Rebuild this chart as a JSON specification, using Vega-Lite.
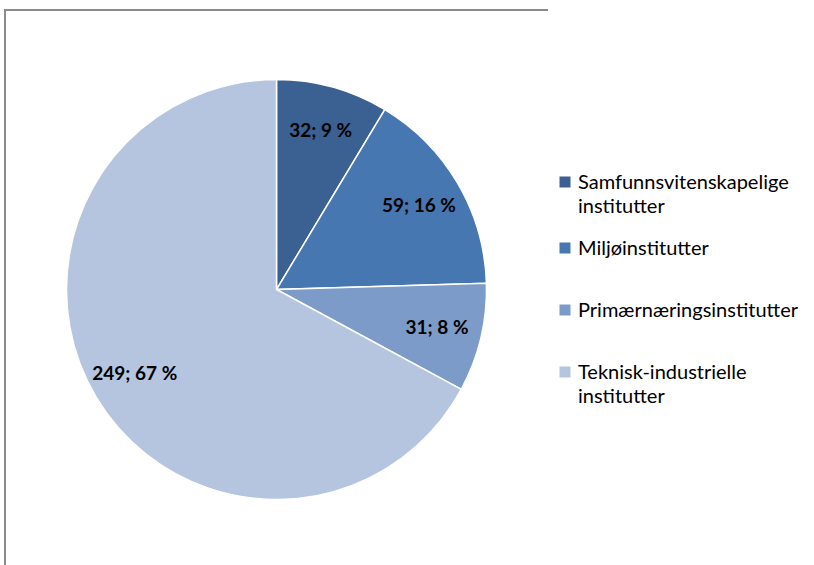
{
  "$schema": "https://vega.github.io/schema/vega-lite/v6.json",
  "width": 543,
  "height": 559,
  "autosize": {"type": "none"},
  "padding": {"left": 5, "top": 10, "right": 266, "bottom": 0},
  "background": "white",
  "view": {"stroke": "#8a8a8a", "strokeWidth": 2, "strokeDash": [543, 1102, 560]},
  "config": {
    "style": {"guide-label": {"dy": -9, "lineHeight": 24}}
  },
  "data": {
    "values": [
      {"idx": 1, "name": "Samfunnsvitenskapelige institutter", "value": 32, "label": "32; 9 %"},
      {"idx": 2, "name": "Miljøinstitutter", "value": 59, "label": "59; 16 %"},
      {"idx": 3, "name": "Primærnæringsinstitutter", "value": 31, "label": "31; 8 %"},
      {"idx": 4, "name": "Teknisk-industrielle institutter", "value": 249, "label": "249; 67 %"}
    ]
  },
  "encoding": {
    "theta": {"field": "value", "type": "quantitative", "stack": true},
    "order": {"field": "idx", "type": "quantitative"}
  },
  "layer": [
    {
      "mark": {"type": "arc", "outerRadius": 210, "stroke": "white", "strokeWidth": 1.5},
      "encoding": {
        "color": {
          "field": "name",
          "type": "nominal",
          "sort": null,
          "scale": {
            "domain": ["Samfunnsvitenskapelige institutter", "Miljøinstitutter", "Primærnæringsinstitutter", "Teknisk-industrielle institutter"],
            "range": ["#3a6191", "#4677b0", "#7c9bc8", "#b5c4df"]
          },
          "legend": {
            "orient": "none",
            "legendX": 550,
            "legendY": 141,
            "title": null,
            "padding": 0,
            "symbolType": "square",
            "symbolSize": 121,
            "symbolStrokeWidth": 0,
            "symbolOpacity": 1,
            "labelFont": "Lato",
            "labelFontSize": 20,
            "labelColor": "#000000",
            "labelLimit": 300,
            "labelOffset": 3,
            "labelBaseline": "top",
            "labelExpr": "split(datum.label, ' ')",
            "clipHeight": 62,
            "rowPadding": 0
          }
        }
      }
    },
    {
      "mark": {"type": "text", "radius": 165, "font": "Lato", "fontWeight": "bold", "fontSize": 19, "fill": "#000000", "align": "center", "baseline": "middle"},
      "encoding": {
        "text": {"field": "label", "type": "nominal"}
      }
    }
  ]
}
